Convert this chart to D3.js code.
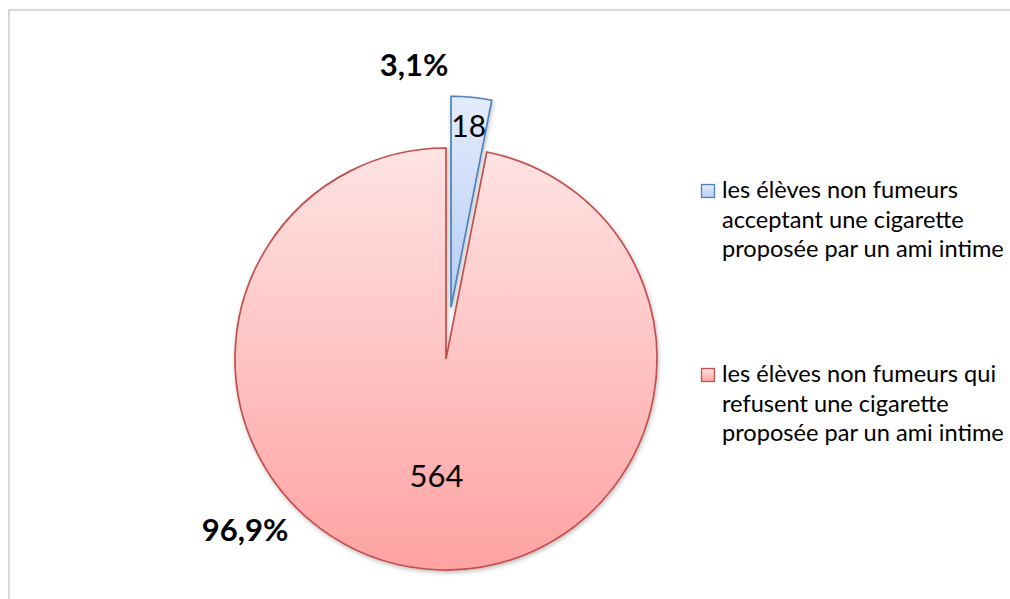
<!DOCTYPE html>
<html>
<head>
<meta charset="utf-8">
<script src="https://cdn.jsdelivr.net/npm/d3@7"></script>
<style>
  html, body { margin: 0; padding: 0; background: #fff; overflow: hidden; }
  svg { display: block; font-family: Lato, "Open Sans", sans-serif; }
</style>
</head>
<body>
<svg id="chart" width="1010" height="599"></svg>
<script>
// Non-smoking pupils offered a cigarette by a close friend
const categories = ["accept", "refuse"];
const values = [18, 564];
const legendLines = [
  ["les élèves non fumeurs", "acceptant une cigarette", "proposée par un ami intime"],
  ["les élèves non fumeurs qui", "refusent une cigarette", "proposée par un ami intime"]
];

const svg = d3.select("#chart");
const defs = svg.append("defs");

// Chart area frame (only the top and left edges fall inside the view)
svg.append("rect")
  .attr("x", 9).attr("y", 10).attr("width", 1100).attr("height", 700)
  .attr("fill", "none").attr("stroke", "#d9d9d9").attr("stroke-width", 2);

const fills = {
  accept: { top: "#e3ecfb", bottom: "#b6cdf4", stroke: "#4f81bd" },
  refuse: { top: "#ffe3e3", bottom: "#ffa2a2", stroke: "#c0504d" }
};

categories.forEach(c => {
  const g = defs.append("linearGradient").attr("id", "grad-" + c)
    .attr("x1", 0).attr("y1", 0).attr("x2", 0).attr("y2", 1);
  g.append("stop").attr("offset", "0%").attr("stop-color", fills[c].top);
  g.append("stop").attr("offset", "100%").attr("stop-color", fills[c].bottom);
});

const shadow = defs.append("filter").attr("id", "shadow")
  .attr("x", "-20%").attr("y", "-20%").attr("width", "140%").attr("height", "140%");
shadow.append("feDropShadow").attr("dx", 1).attr("dy", 2).attr("stdDeviation", 2)
  .attr("flood-color", "#000").attr("flood-opacity", 0.25);

const cx = 446, cy = 359, radius = 211, explode = 52;
const total = d3.sum(values);
const data = categories.map((c, i) => ({ key: c, value: values[i] }));

const pie = d3.pie().sort(null).value(d => d.value);
const arcs = pie(data);
const arc = d3.arc().innerRadius(0).outerRadius(radius);

const fmtPct = v => d3.format(".1f")(v * 100).replace(".", ",") + "%";

const pieG = svg.append("g").attr("transform", `translate(${cx},${cy})`);

arcs.forEach((a, i) => {
  const mid = (a.startAngle + a.endAngle) / 2;
  const off = i === 0 ? explode : 0;
  const dx = Math.sin(mid) * off, dy = -Math.cos(mid) * off;
  const sg = pieG.append("g").attr("transform", `translate(${dx},${dy})`);
  sg.append("path")
    .attr("d", arc(a))
    .attr("fill", `url(#grad-${a.data.key})`)
    .attr("stroke", fills[a.data.key].stroke)
    .attr("stroke-width", 1.7)
    .attr("stroke-linejoin", "miter")
    .attr("filter", "url(#shadow)");
});

// Value labels inside the slices
const valueRadius = [radius * 0.86 + explode, radius * 0.56];
const valueSize = [30, 31];
arcs.forEach((a, i) => {
  const mid = (a.startAngle + a.endAngle) / 2;
  const r = valueRadius[i];
  pieG.append("text")
    .attr("x", Math.sin(mid) * r + (i === 1 ? 2 : 0))
    .attr("y", -Math.cos(mid) * r + 10.5)
    .attr("text-anchor", "middle")
    .attr("font-size", valueSize[i])
    .attr("fill", "#000")
    .text(a.data.value);
});

// Percentage labels outside the pie
const pctPos = [
  { x: 414, y: 76 },
  { x: 245, y: 541 }
];
arcs.forEach((a, i) => {
  svg.append("text")
    .attr("x", pctPos[i].x).attr("y", pctPos[i].y)
    .attr("text-anchor", "middle")
    .attr("font-size", 31)
    .attr("font-weight", "bold")
    .attr("fill", "#000")
    .text(fmtPct(a.data.value / total));
});

// Legend
const legendBase = [198, 382];
categories.forEach((c, i) => {
  const lg = svg.append("g").attr("transform", `translate(701,${legendBase[i]})`);
  lg.append("rect")
    .attr("x", 0.5).attr("y", -13.5).attr("width", 13).attr("height", 13)
    .attr("fill", `url(#grad-${c})`)
    .attr("stroke", fills[c].stroke).attr("stroke-width", 1.3);
  const t = lg.append("text").attr("font-size", 23.6).attr("fill", "#000");
  legendLines[i].forEach((line, j) => {
    t.append("tspan").attr("x", 21).attr("y", j * 29.5).text(line);
  });
});
</script>
</body>
</html>
